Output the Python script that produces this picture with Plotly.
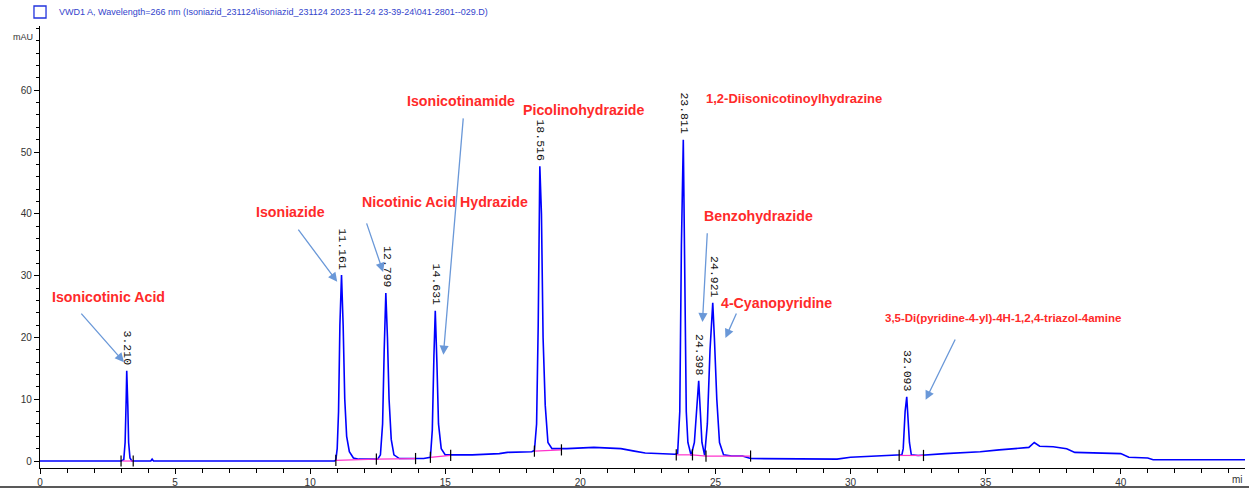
import plotly.graph_objects as go

# ---- chromatogram signal (time in min, signal in mAU) ----
time_min = [0, 3.0, 3.1, 3.15, 3.19, 3.21, 3.25, 3.28, 3.33, 3.4, 4.1, 4.15, 4.2, 10.9,
            10.95, 11.0, 11.05, 11.1, 11.16, 11.22, 11.28, 11.35, 11.45, 11.6, 11.8,
            12.5, 12.6, 12.68, 12.74, 12.8, 12.86, 12.92, 13.0, 13.1, 13.3, 14.2,
            14.45, 14.52, 14.58, 14.63, 14.69, 14.75, 14.85, 15.0, 16.0, 17.0, 17.3, 18.2,
            18.3, 18.38, 18.44, 18.5, 18.56, 18.62, 18.7, 18.8, 18.95, 19.5, 20.5, 21.5, 22.0, 22.4, 23.5,
            23.6, 23.68, 23.74, 23.81, 23.86, 23.92, 23.98, 24.1, 24.22, 24.3, 24.38, 24.44, 24.5, 24.6,
            24.7, 24.8, 24.9, 24.96, 25.05, 25.15, 25.3, 25.6, 26.0, 26.3, 28.0, 29.5, 30.0, 31.3, 31.9,
            31.95, 32.02, 32.08, 32.12, 32.18, 32.25, 32.5, 33.5, 34.8, 35.5, 36.6, 36.8, 37.0, 37.5, 38.0,
            38.3, 40.0, 40.3, 41.0, 41.2, 44.6]
signal_mau = [0, 0, 0.2, 3, 10, 14.6, 9, 3, 0.5, 0, 0, 0.3, 0, 0,
              0.2, 2, 8, 22, 30.1, 22, 10, 4, 1.5, 0.5, 0.3,
              0.3, 1, 6, 18, 27.2, 20, 10, 3.5, 1, 0.4, 0.4,
              0.6, 5, 17, 24.3, 16, 6, 2, 1, 1, 1.2, 1.4, 1.5,
              1.7, 6, 22, 47.7, 40, 20, 9, 3, 2, 2, 2.2, 2, 1.6, 1.3, 1.1,
              1.2, 8, 35, 52, 36, 8, 3, 0.9, 3, 8, 13, 8, 3, 0.9,
              6, 18, 25.6, 20, 10, 3, 1, 0.8, 0.8, 0.4, 0.3, 0.3, 0.6, 0.8, 1.0,
              2, 8, 10.4, 8, 3, 1, 0.9, 1.2, 1.5, 1.8, 2.2, 3.0, 2.4, 2.3, 2.0,
              1.4, 1.2, 0.6, 0.5, 0.2, 0.2]

# ---- integration baselines (pink) ----
base_t0 = [3.05, 10.95, 12.45, 14.45, 18.3, 23.55, 24.15, 24.65, 31.8]
base_y0 = [0.0, 0.1, 0.3, 0.6, 1.6, 1.0, 1.0, 0.8, 0.9]
base_t1 = [3.45, 12.45, 13.9, 15.2, 19.3, 24.15, 24.65, 26.3, 32.7]
base_y1 = [0.0, 0.3, 0.4, 0.9, 1.8, 1.0, 0.8, 0.8, 0.9]

# ---- integration event marks ----
event_t = [3.0, 3.45, 10.95, 12.45, 13.9, 14.45, 15.2, 18.3, 19.3, 23.55, 24.15, 24.65, 26.3, 31.8, 32.7]
event_y = [0.0, 0.0, 0.1, 0.3, 0.4, 0.6, 0.9, 1.6, 1.8, 1.0, 1.0, 0.8, 0.8, 0.9, 0.9]

# ---- peak labels ----
peak_rt = [3.21, 11.16, 12.80, 14.63, 18.50, 23.81, 24.38, 24.90, 32.08]
peak_h = [14.6, 30.1, 27.2, 24.3, 47.7, 52.0, 13.0, 25.6, 10.4]
peak_txt = ["3.210", "11.161", "12.799", "14.631", "18.516", "23.811", "24.398", "24.921", "32.093"]

# ---- compound names ----
name_txt = ["Isonicotinic Acid", "Isoniazide", "Nicotinic Acid Hydrazide", "Isonicotinamide",
            "Picolinohydrazide", "1,2-Diisonicotinoylhydrazine", "Benzohydrazide",
            "4-Cyanopyridine", "3,5-Di(pyridine-4-yl)-4H-1,2,4-triazol-4amine"]
name_x = [2.52, 9.26, 15.0, 15.6, 20.15, 27.9, 26.6, 27.26, 35.63]
name_y = [26.5, 40.3, 41.9, 58.3, 56.8, 58.6, 39.6, 25.6, 23.1]

# ---- arrows (tail -> head) ----
arrow_tail_x = [1.48, 9.52, 12.07, 15.67, 24.7, 25.8, 33.9]
arrow_tail_y = [24.1, 37.7, 38.7, 55.7, 37.1, 24.1, 19.9]
arrow_head_x = [3.11, 11.0, 12.7, 14.93, 24.52, 25.37, 32.78]
arrow_head_y = [16.0, 29.0, 30.6, 17.2, 22.5, 19.9, 9.9]

x_ticks = [0, 5, 10, 15, 20, 25, 30, 35, 40]
y_ticks = [0, 10, 20, 30, 40, 50, 60]

legend_text = r"VWD1 A, Wavelength=266 nm (Isoniazid_231124\isoniazid_231124 2023-11-24 23-39-24\041-2801--029.D)"

# ---- styles (kept apart from the data) ----
name_font_size = {"1,2-Diisonicotinoylhydrazine": 13,
                  "3,5-Di(pyridine-4-yl)-4H-1,2,4-triazol-4amine": 11.5}
default_name_size = 14.2

fig = go.Figure()

bx, by = [], []
for a, b, c, d in zip(base_t0, base_y0, base_t1, base_y1):
    bx += [a, c, None]
    by += [b, d, None]

fig.add_trace(go.Scatter(x=time_min, y=signal_mau, mode="lines",
                         line=dict(color="#0000ff", width=1.6), hoverinfo="skip"))
fig.add_trace(go.Scatter(x=bx, y=by, mode="lines",
                         line=dict(color="#ff33cc", width=1.2), hoverinfo="skip"))
fig.add_trace(go.Scatter(x=event_t, y=event_y, mode="markers",
                         marker=dict(symbol="line-ns", size=8, line=dict(color="black", width=1.2)),
                         hoverinfo="skip"))

for rt, h, t in zip(peak_rt, peak_h, peak_txt):
    fig.add_annotation(x=rt, y=h, text=t, textangle=90, showarrow=False,
                       xanchor="center", yanchor="bottom", yshift=3, xshift=1,
                       font=dict(family="Liberation Mono, DejaVu Sans Mono", size=11.5, color="#111111"))

for t, x, y in zip(name_txt, name_x, name_y):
    fig.add_annotation(x=x, y=y, text="<b>" + t + "</b>", showarrow=False,
                       xanchor="center", yanchor="middle",
                       font=dict(family="Liberation Sans, Arial",
                                 size=name_font_size.get(t, default_name_size), color="#ff2a2a"))

for tx, ty, hx, hy in zip(arrow_tail_x, arrow_tail_y, arrow_head_x, arrow_head_y):
    fig.add_annotation(x=hx, y=hy, ax=tx, ay=ty, axref="x", ayref="y", text="",
                       showarrow=True, arrowhead=2, arrowsize=1.4, arrowwidth=1.3,
                       arrowcolor="#6a98d8")

# legend-like header
fig.add_shape(type="rect", xref="paper", yref="paper", x0=-0.005, x1=0.005,
              y0=1.0 + (26 - 18) / 442, y1=1.0 + (26 - 6) / 442,
              line=dict(color="#2233dd", width=1.3), fillcolor="white")
fig.add_annotation(xref="paper", yref="paper", x=0.0142, y=1.0 + (26 - 12) / 442,
                   text=legend_text, showarrow=False, xanchor="left", yanchor="middle",
                   font=dict(family="Liberation Sans Narrow, Liberation Sans, Arial", size=9, color="#3344cc"))
fig.add_annotation(xref="paper", yref="y", x=-0.004, y=68.6, text="mAU", showarrow=False,
                   xanchor="right", yanchor="middle",
                   font=dict(family="Liberation Sans Narrow, Liberation Sans, Arial", size=9, color="#333333"))
fig.add_annotation(xref="paper", yref="paper", x=1.0, y=-12 / 442, text="mi", showarrow=False,
                   xanchor="right", yanchor="middle",
                   font=dict(family="Liberation Sans, Arial", size=10, color="#333333"))
fig.add_shape(type="line", xref="paper", yref="paper", x0=-0.04, x1=1.01,
              y0=-(487 - 468) / 442, y1=-(487 - 468) / 442,
              line=dict(color="#222222", width=1.5))

fig.update_layout(
    width=1249, height=490,
    margin=dict(l=40, r=4, t=26, b=22),
    paper_bgcolor="white", plot_bgcolor="white",
    showlegend=False,
    xaxis=dict(range=[0, 44.6], showline=True, linecolor="black", linewidth=1.2,
               automargin=False,
               ticks="outside", ticklen=5, tickcolor="black", tickvals=x_ticks,
               ticktext=[str(v) for v in x_ticks],
               minor=dict(dtick=1, ticks="outside", ticklen=4, tickcolor="black"),
               showgrid=False, zeroline=False,
               tickfont=dict(family="Liberation Sans Narrow, Liberation Sans, Arial", size=10, color="#333333")),
    yaxis=dict(range=[-1.13, 70.4], showline=True, linecolor="black", linewidth=1.2,
               automargin=False,
               ticks="outside", ticklen=5, tickcolor="black", tickvals=y_ticks,
               ticktext=[str(v) for v in y_ticks],
               minor=dict(dtick=2, ticks="outside", ticklen=3, tickcolor="black"),
               showgrid=False, zeroline=False,
               tickfont=dict(family="Liberation Sans Narrow, Liberation Sans, Arial", size=10, color="#333333")),
)

fig.write_html("out.html", config={"displayModeBar": False},
               post_script="document.body.style.margin='0';document.body.style.overflow='hidden';")
